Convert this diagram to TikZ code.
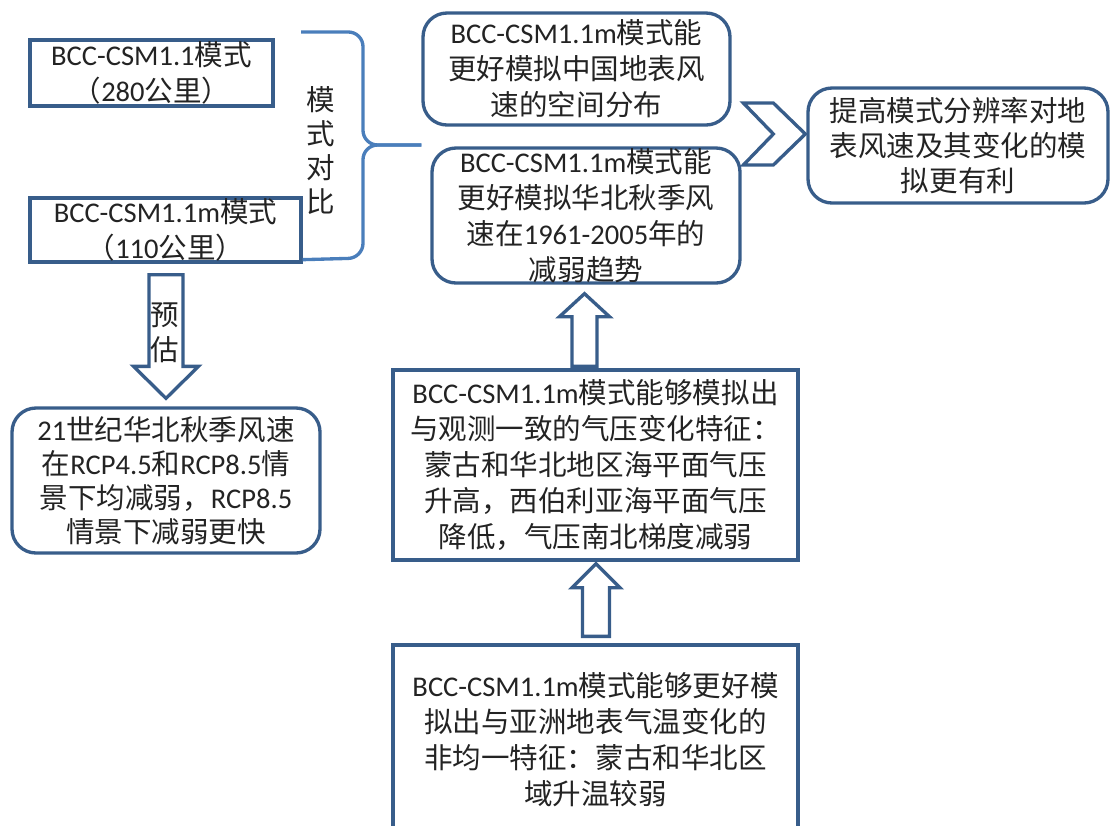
\documentclass[tikz,border=0pt]{standalone}
\usepackage{fontspec}
\setmainfont{Carlito}
\newfontfamily\cjk{Noto Sans CJK SC}
\usetikzlibrary{calc}
\definecolor{boxblue}{RGB}{56,93,138}
\definecolor{braceblue}{RGB}{74,126,187}
\definecolor{txt}{RGB}{35,35,35}
\newcommand\zh[1]{{\cjk #1}}
\newcommand\vblock[5]{%
  \coordinate (vbtmp) at (#2|-#1);
  \draw[blk] ($(vbtmp)+(-#3,0)$) -- ($(#2)+(-#3,#5)$) -- ($(#2)+(-#4,#5)$) -- (#2)
    -- ($(#2)+(#4,#5)$) -- ($(#2)+(#3,#5)$) -- ($(vbtmp)+(#3,0)$) -- cycle;}
\begin{document}
\begin{tikzpicture}[x=0.75pt,y=-0.75pt,
  every node/.style={font=\fontsize{21.4}{27}\selectfont, text=txt, align=center, inner sep=0pt},
  sqbox/.style={draw=boxblue, line width=2.5pt, rectangle},
  rbox/.style={draw=boxblue, line width=2.5pt, rectangle, rounded corners=18pt},
  blk/.style={draw=boxblue, line width=2.5pt, fill=white, line join=miter},
  brc/.style={draw=braceblue, line width=2.5pt, rounded corners=11pt}]
\useasboundingbox (0,0) rectangle (1112,825);

% boxes
\node[sqbox, minimum width=182.25pt, minimum height=49.5pt] (A) at (151.5,73)
  {BCC-CSM1.1\zh{模式}\\\zh{（}280\zh{公里）}};
\node[sqbox, minimum width=203.25pt, minimum height=48pt] (B) at (165.5,230)
  {BCC-CSM1.1m\zh{模式}\\\zh{（}110\zh{公里）}};
\node[rbox, minimum width=230.25pt, minimum height=84pt] (C) at (576.5,69)
  {BCC-CSM1.1m\zh{模式能}\\\zh{更好模拟中国地表风}\\\zh{速的空间分布}};
\node[rbox, minimum width=231pt, minimum height=101.25pt] (D) at (586,215.5)
  {BCC-CSM1.1m\zh{模式能}\\\zh{更好模拟华北秋季风}\\\zh{速在}1961-2005\zh{年的}\\\zh{减弱趋势}};
\node[rbox, minimum width=225pt, minimum height=86.25pt, font=\fontsize{21.4}{26}\selectfont] (E) at (958,145.5)
  {\zh{提高模式分辨率对地}\\\zh{表风速及其变化的模}\\\zh{拟更有利}};
\node[rbox, minimum width=231pt, minimum height=108.75pt, font=\fontsize{21.4}{25.5}\selectfont] (F) at (166,480.5)
  {21\zh{世纪华北秋季风速}\\\zh{在}RCP4.5\zh{和}RCP8.5\zh{情}\\\zh{景下均减弱，}RCP8.5\\\zh{情景下减弱更快}};
\node[sqbox, minimum width=303.75pt, minimum height=142.5pt] (G) at (595.5,465)
  {BCC-CSM1.1m\zh{模式能够模拟出}\\\zh{与观测一致的气压变化特征：}\\\zh{蒙古和华北地区海平面气压}\\\zh{升高，西伯利亚海平面气压}\\\zh{降低，气压南北梯度减弱}};
\node[sqbox, minimum width=303.75pt, minimum height=142.5pt] (H) at (595.5,740)
  {BCC-CSM1.1m\zh{模式能够更好模}\\\zh{拟出与亚洲地表气温变化的}\\\zh{非均一特征：蒙古和华北区}\\\zh{域升温较弱}};

% brace (model comparison)
\coordinate (bt) at (301,32);
\coordinate (bb) at ($(B.south east)+(0,-4)$);
\coordinate (btip) at ($(C.west)+(0,76)$);
\draw[brc] (bt) -- (363,32) -- (363,145) -- (btip);
\draw[brc] (bb) -- (363,258) -- (363,145) -- (btip);
\node[font=\fontsize{21.4}{25.5}\selectfont] (cmp) at (321,151) {\zh{模}\\\zh{式}\\\zh{对}\\\zh{比}};

% block arrows
\coordinate (p1s) at ($(B.south)+(0,11)$);
\coordinate (p1t) at ($(F.north)+(0,-8)$);
\vblock{p1s}{p1t}{17}{32.5}{-32}
\node[font=\fontsize{21.4}{26}\selectfont] (est) at (165,333) {\zh{预}\\\zh{估}};

\coordinate (p2s) at ($(G.north)+(-11,-2)$);
\coordinate (p2t) at ($(D.south)+(-1.5,9)$);
\vblock{p2s}{p2t}{12.5}{25}{23}

\coordinate (p3s) at ($(H.north)+(0,-7)$);
\coordinate (p3t) at ($(G.south)+(0.5,2)$);
\vblock{p3s}{p3t}{13.5}{24}{24}

% chevron to conclusion
\coordinate (chv) at ($(E.west)+(-1,-11.5)$);
\draw[blk] ($(chv)+(-62,-31)$) -- ($(chv)+(-32,-31)$) -- (chv) -- ($(chv)+(-32,31)$)
  -- ($(chv)+(-62,31)$) -- ($(chv)+(-32,0)$) -- cycle;
\end{tikzpicture}
\end{document}
